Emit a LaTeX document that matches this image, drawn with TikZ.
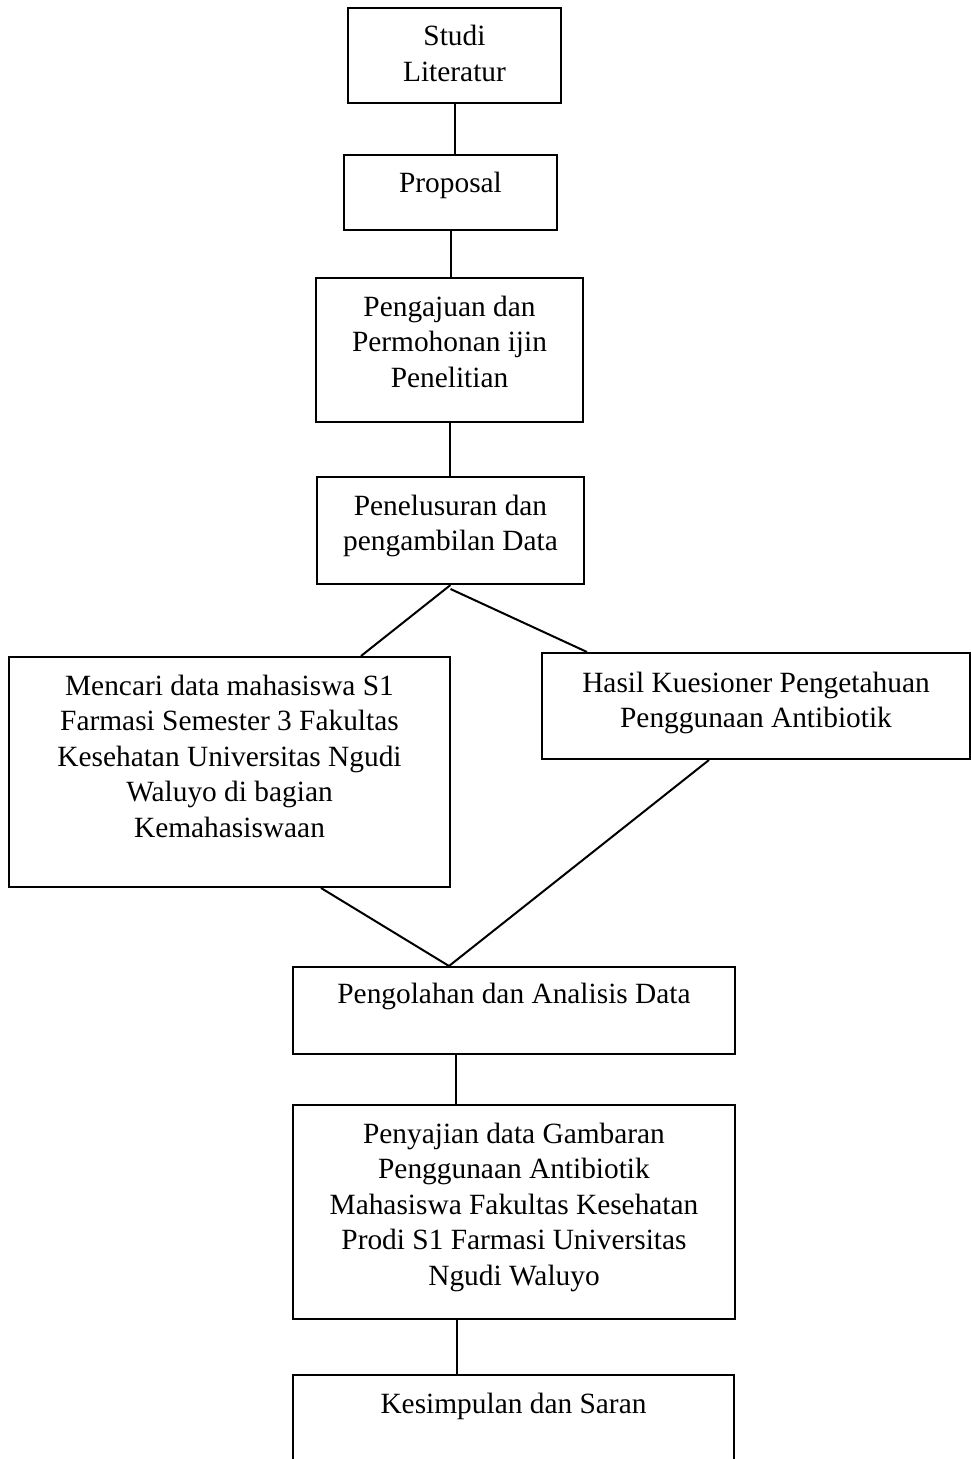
\documentclass[tikz,border=0pt]{standalone}
\usepackage{fontspec}
\setmainfont{Liberation Serif}
\usetikzlibrary{fit,calc}
\tikzset{
  box/.style={draw=black, line width=0.8pt, inner sep=0pt, rectangle},
  txt/.style={inner sep=0pt, align=center, anchor=base, font=\fontsize{11.75}{14.2}\selectfont},
  conn/.style={draw=black, line width=0.8pt}
}
\begin{document}
\begin{tikzpicture}[x=0.4pt,y=-0.4pt]
\useasboundingbox (0,0) rectangle (971,1459);
% boxes
\node[box, fit={(348,8) (561,103)}] (b1) {};
\node[box, fit={(344,155) (557,230)}] (b2) {};
\node[box, fit={(316,278) (583,422)}] (b3) {};
\node[box, fit={(317,477) (584,584)}] (b4) {};
\node[box, fit={(9,657) (450,887)}] (b5) {};
\node[box, fit={(542,653) (970,759)}] (b6) {};
\node[box, fit={(293,967) (735,1054)}] (b7) {};
\node[box, fit={(293,1105) (735,1319)}] (b8) {};
\node[box, fit={(293,1375) (734,1490)}] (b9) {};
% texts (anchored at the baseline of the last line)
\node[txt] (t1) at (454.5,81.5) {Studi\\Literatur};
\node[txt] (t2) at (450.5,193) {Proposal};
\node[txt] (t3) at (449.5,387) {Pengajuan dan\\Permohonan ijin\\Penelitian};
\node[txt] (t4) at (450.5,550.5) {Penelusuran dan\\pengambilan Data};
\node[txt] (t5) at (229.5,837) {Mencari data mahasiswa S1\\Farmasi Semester 3 Fakultas\\Kesehatan Universitas Ngudi\\Waluyo di bagian\\Kemahasiswaan};
\node[txt] (t6) at (756,727.5) {Hasil Kuesioner Pengetahuan\\Penggunaan Antibiotik};
\node[txt] (t7) at (514,1003) {Pengolahan dan Analisis Data};
\node[txt] (t8) at (514,1285) {Penyajian data Gambaran\\Penggunaan Antibiotik\\Mahasiswa Fakultas Kesehatan\\Prodi S1 Farmasi Universitas\\Ngudi Waluyo};
\node[txt] (t9) at (513.5,1413) {Kesimpulan dan Saran};
% connectors
\draw[conn] (b1.south) -- (b1.south |- b2.north);
\draw[conn] (b2.south) -- (b2.south |- b3.north);
\draw[conn] (b3.south) -- (b3.south |- b4.north);
\draw[conn] (b4.south) -- ($(b5.north west)+(353,0)$);
\draw[conn] ($(b4.south)+(0,4)$) -- ($(b6.north west)+(46,0)$);
\draw[conn] ($(b5.south west)+(313,0)$) -- ($(b7.north west)+(157,0)$);
\draw[conn] ($(b6.south west)+(168,0)$) -- ($(b7.north west)+(157,0)$);
\draw[conn] ($(b7.south west)+(164,0)$) -- ($(b8.north west)+(164,0)$);
\draw[conn] ($(b8.south west)+(165,0)$) -- ($(b9.north west)+(165,0)$);
\end{tikzpicture}
\end{document}
